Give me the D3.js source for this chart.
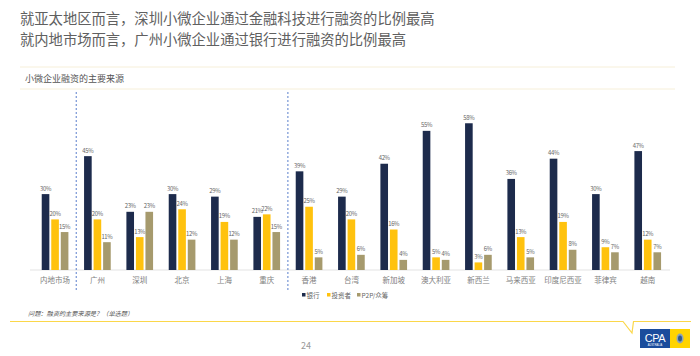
<!DOCTYPE html>
<html><head><meta charset="utf-8">
<script src="https://cdn.jsdelivr.net/npm/d3@7"></script>
<style>
html,body{margin:0;padding:0;background:#fff;}
svg{display:block;font-family:"Noto Sans CJK SC","Noto Sans",sans-serif;}
</style></head>
<body>
<svg id="c" width="700" height="356"></svg>
<script>
const categories = ["内地市场","广州","深圳","北京","上海","重庆","香港","台湾","新加坡","澳大利亚","新西兰","马来西亚","印度尼西亚","菲律宾","越南"];
const seriesNames = ["银行","投资者","P2P/众筹"];
const bank     = [30,45,23,30,29,21,39,29,42,55,58,36,44,30,47];
const investor = [20,20,13,24,19,22,25,20,16,5,3,13,19,9,12];
const p2p      = [15,11,23,12,12,15,5,6,4,4,6,5,8,7,7];
const colors = ["#1d2b4c","#ffc20e","#a69a6d"];
const titleLines = ["就亚太地区而言，深圳小微企业通过金融科技进行融资的比例最高","就内地市场而言，广州小微企业通过银行进行融资的比例最高"];
const subtitle = "小微企业融资的主要来源";
const note = "问题：融资的主要来源是？（单选题）";
const dividersBefore = ["广州","香港"];

const series = [bank, investor, p2p];
const svg = d3.select("#c");

// titles
svg.selectAll("text.title").data(titleLines).join("text")
  .attr("x",20).attr("y",(d,i)=>24+i*21)
  .attr("font-size",14.3).attr("fill","#606060").text(d=>d);

// faint header lines
[67,89].forEach(y=>svg.append("line").attr("x1",20).attr("x2",675).attr("y1",y).attr("y2",y)
  .attr("stroke","#f6efd9").attr("stroke-width",1));
svg.append("text").attr("x",25).attr("y",82).attr("font-size",9).attr("fill","#555").text(subtitle);

const x = d3.scaleBand().domain(categories).range([33.9,668.9]).paddingInner(0.37).paddingOuter(0.185);
const xs = d3.scaleBand().domain(d3.range(3)).range([0,x.bandwidth()]).paddingInner(0.2).paddingOuter(0);
const y = d3.scaleLinear().domain([0,60]).range([270,118.2]);

// baseline
svg.append("line").attr("x1",30).attr("x2",670).attr("y1",y(0)).attr("y2",y(0))
  .attr("stroke","#dcdcdc").attr("stroke-width",0.8);

const g = svg.selectAll("g.cat").data(categories).join("g")
  .attr("transform",d=>`translate(${x(d)},0)`);
series.forEach((vals,si)=>{
  g.append("rect")
    .attr("x",xs(si)).attr("width",xs.bandwidth())
    .attr("y",(d,i)=>y(vals[i])).attr("height",(d,i)=>y(0)-y(vals[i]))
    .attr("fill",colors[si]);
  g.append("text")
    .attr("x",xs(si)+xs.bandwidth()/2).attr("y",(d,i)=>y(vals[i])-3.5)
    .attr("text-anchor","middle").attr("font-size",5.9).attr("letter-spacing","-0.3").attr("fill","#666")
    .text((d,i)=>vals[i]+"%");
});

// category axis labels
const ax = svg.append("g").attr("transform",`translate(0,${y(0)})`)
  .call(d3.axisBottom(x).tickSize(0).tickPadding(8));
ax.select(".domain").remove();
ax.selectAll("text").attr("font-size",7.5).attr("fill","#808080")
  .attr("font-family","\"Noto Sans CJK SC\",sans-serif");

// dividers
dividersBefore.forEach(c=>{
  const xv = x(c) - x.step()*x.paddingInner()/2;
  svg.append("line").attr("x1",xv).attr("x2",xv).attr("y1",92).attr("y2",291)
    .attr("stroke","#5a7fcc").attr("stroke-width",1).attr("stroke-dasharray","2,2");
});

// legend
const legX = [302,327,357];
seriesNames.forEach((n,i)=>{
  svg.append("rect").attr("x",legX[i]).attr("y",293).attr("width",3.5).attr("height",3.5).attr("fill",colors[i]);
  svg.append("text").attr("x",legX[i]+4.5).attr("y",297.5).attr("font-size",6.5).attr("fill","#666").text(n);
});

// note
svg.append("text").attr("x",28).attr("y",315.5).attr("font-size",6.2).attr("fill","#555")
  .attr("font-style","italic").text(note);

// yellow footer line with notch
svg.append("path").attr("d","M10,321.5 H623 L632,333 L633.5,321.5 H691")
  .attr("fill","none").attr("stroke","#fbd74a").attr("stroke-width",1.2);

// page number
svg.append("text").attr("x",306).attr("y",349).attr("text-anchor","middle")
  .attr("font-size",9).attr("fill","#999").text("24");

// logo
svg.append("rect").attr("x",640).attr("y",329).attr("width",30).attr("height",19).attr("fill","#1a4c9c");
svg.append("rect").attr("x",670).attr("y",329).attr("width",20).attr("height",19).attr("fill","#ffd400");
svg.append("text").attr("x",655).attr("y",341.5).attr("text-anchor","middle").attr("font-size",11)
  .attr("font-family","Arial,'Liberation Sans',sans-serif").attr("fill","#fff").attr("letter-spacing","-0.5").text("CPA");
svg.append("text").attr("x",655).attr("y",346).attr("text-anchor","middle").attr("font-size",2.6)
  .attr("font-family","'Liberation Sans',sans-serif").attr("fill","#fff").text("AUSTRALIA");
svg.append("ellipse").attr("cx",680).attr("cy",338.5).attr("rx",3.5).attr("ry",5).attr("fill","#8fa3b8");
svg.append("ellipse").attr("cx",680).attr("cy",338.5).attr("rx",2).attr("ry",3).attr("fill","#2e5a8c");
</script>
</body></html>
